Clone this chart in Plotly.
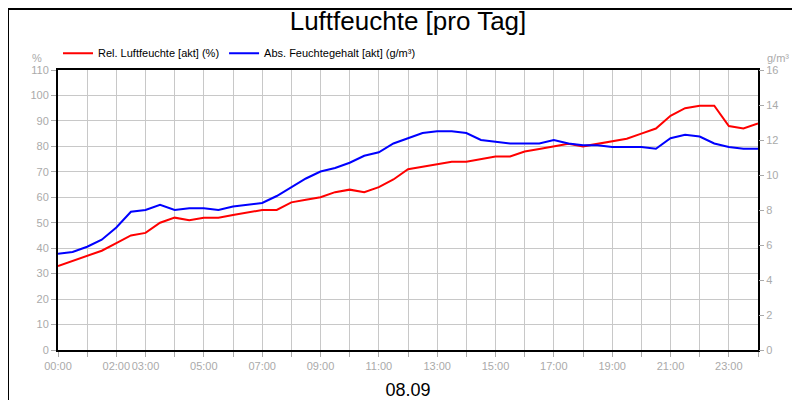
import plotly.graph_objects as go

hours = [i * 0.5 for i in range(49)]
rel = [33, 35, 37, 39, 42, 45, 46, 50, 52, 51, 52, 52, 53, 54, 55, 55, 58, 59, 60, 62,
       63, 62, 64, 67, 71, 72, 73, 74, 74, 75, 76, 76, 78, 79, 80, 81, 80, 81, 82, 83,
       85, 87, 92, 95, 96, 96, 88, 87, 89]
absf = [5.5, 5.6, 5.9, 6.3, 7.0, 7.9, 8.0, 8.3, 8.0, 8.1, 8.1, 8.0, 8.2, 8.3, 8.4, 8.8,
        9.3, 9.8, 10.2, 10.4, 10.7, 11.1, 11.3, 11.8, 12.1, 12.4, 12.5, 12.5, 12.4, 12.0,
        11.9, 11.8, 11.8, 11.8, 12.0, 11.8, 11.7, 11.7, 11.6, 11.6, 11.6, 11.5, 12.1, 12.3,
        12.2, 11.8, 11.6, 11.5, 11.5]
tick_hours = [0, 2, 3, 5, 7, 9, 11, 13, 15, 17, 19, 21, 23]
tick_text = ['%02d:00' % h for h in tick_hours]

grey = '#aaaaaa'
fig = go.Figure()
fig.add_trace(go.Scatter(x=hours, y=rel, mode='lines', name='Rel. Luftfeuchte [akt] (%)',
                         line=dict(color='#ff0000', width=2)))
fig.add_trace(go.Scatter(x=hours, y=absf, mode='lines', name='Abs. Feuchtegehalt [akt] (g/m³)',
                         line=dict(color='#0000ff', width=2), yaxis='y2'))

fig.update_layout(
    width=800, height=400, paper_bgcolor='white', plot_bgcolor='white',
    margin=dict(l=50, r=50, t=62, b=58, autoexpand=False),
    font=dict(family='Liberation Sans, Arial', color=grey, size=11),
    title=dict(text='Luftfeuchte [pro Tag]', x=0.5, y=0.99, yanchor='top',
               font=dict(size=26, color='black')),
    showlegend=True,
    legend=dict(orientation='h', x=0.0, y=1.06, xanchor='left', yanchor='middle',
                font=dict(color='black', size=11), bgcolor='rgba(0,0,0,0)'),
    xaxis=dict(range=[0, 24], tickvals=tick_hours, ticktext=tick_text, showgrid=False,
               tickangle=0, automargin=False,
               ticks='outside', ticklen=5, tickcolor=grey, showline=True, linecolor='black',
               linewidth=2, mirror=True, zeroline=False,
               minor=dict(dtick=1, tick0=0, showgrid=True, gridcolor='#c8c8c8', ticks='outside',
                          ticklen=5, tickcolor=grey),
               title=dict(text='08.09', font=dict(size=18, color='black'), standoff=12)),
    yaxis=dict(range=[0, 110], dtick=10, gridcolor='#c8c8c8', ticks='outside', ticklen=5,
               tickcolor=grey, showline=True, linecolor='black', linewidth=2, mirror=True,
               zeroline=False, automargin=False),
    yaxis2=dict(range=[0, 16], dtick=2, overlaying='y', side='right', showgrid=False,
                ticks='outside', ticklen=5, tickcolor=grey, zeroline=False, automargin=False),
    annotations=[
        dict(text='%', xref='paper', yref='paper', x=-0.02, y=1.07, showarrow=False,
             xanchor='right', font=dict(color=grey, size=11)),
        dict(text='g/m³', xref='paper', yref='paper', x=1.01, y=1.07, showarrow=False,
             xanchor='left', font=dict(color=grey, size=11)),
    ],
    shapes=[dict(type='rect', xref='paper', yref='paper', x0=-50 / 700, x1=1 + 49 / 700,
                 y0=-57 / 280, y1=1 + 61 / 280, line=dict(color='black', width=2))],
)
fig.write_html('out.html')
